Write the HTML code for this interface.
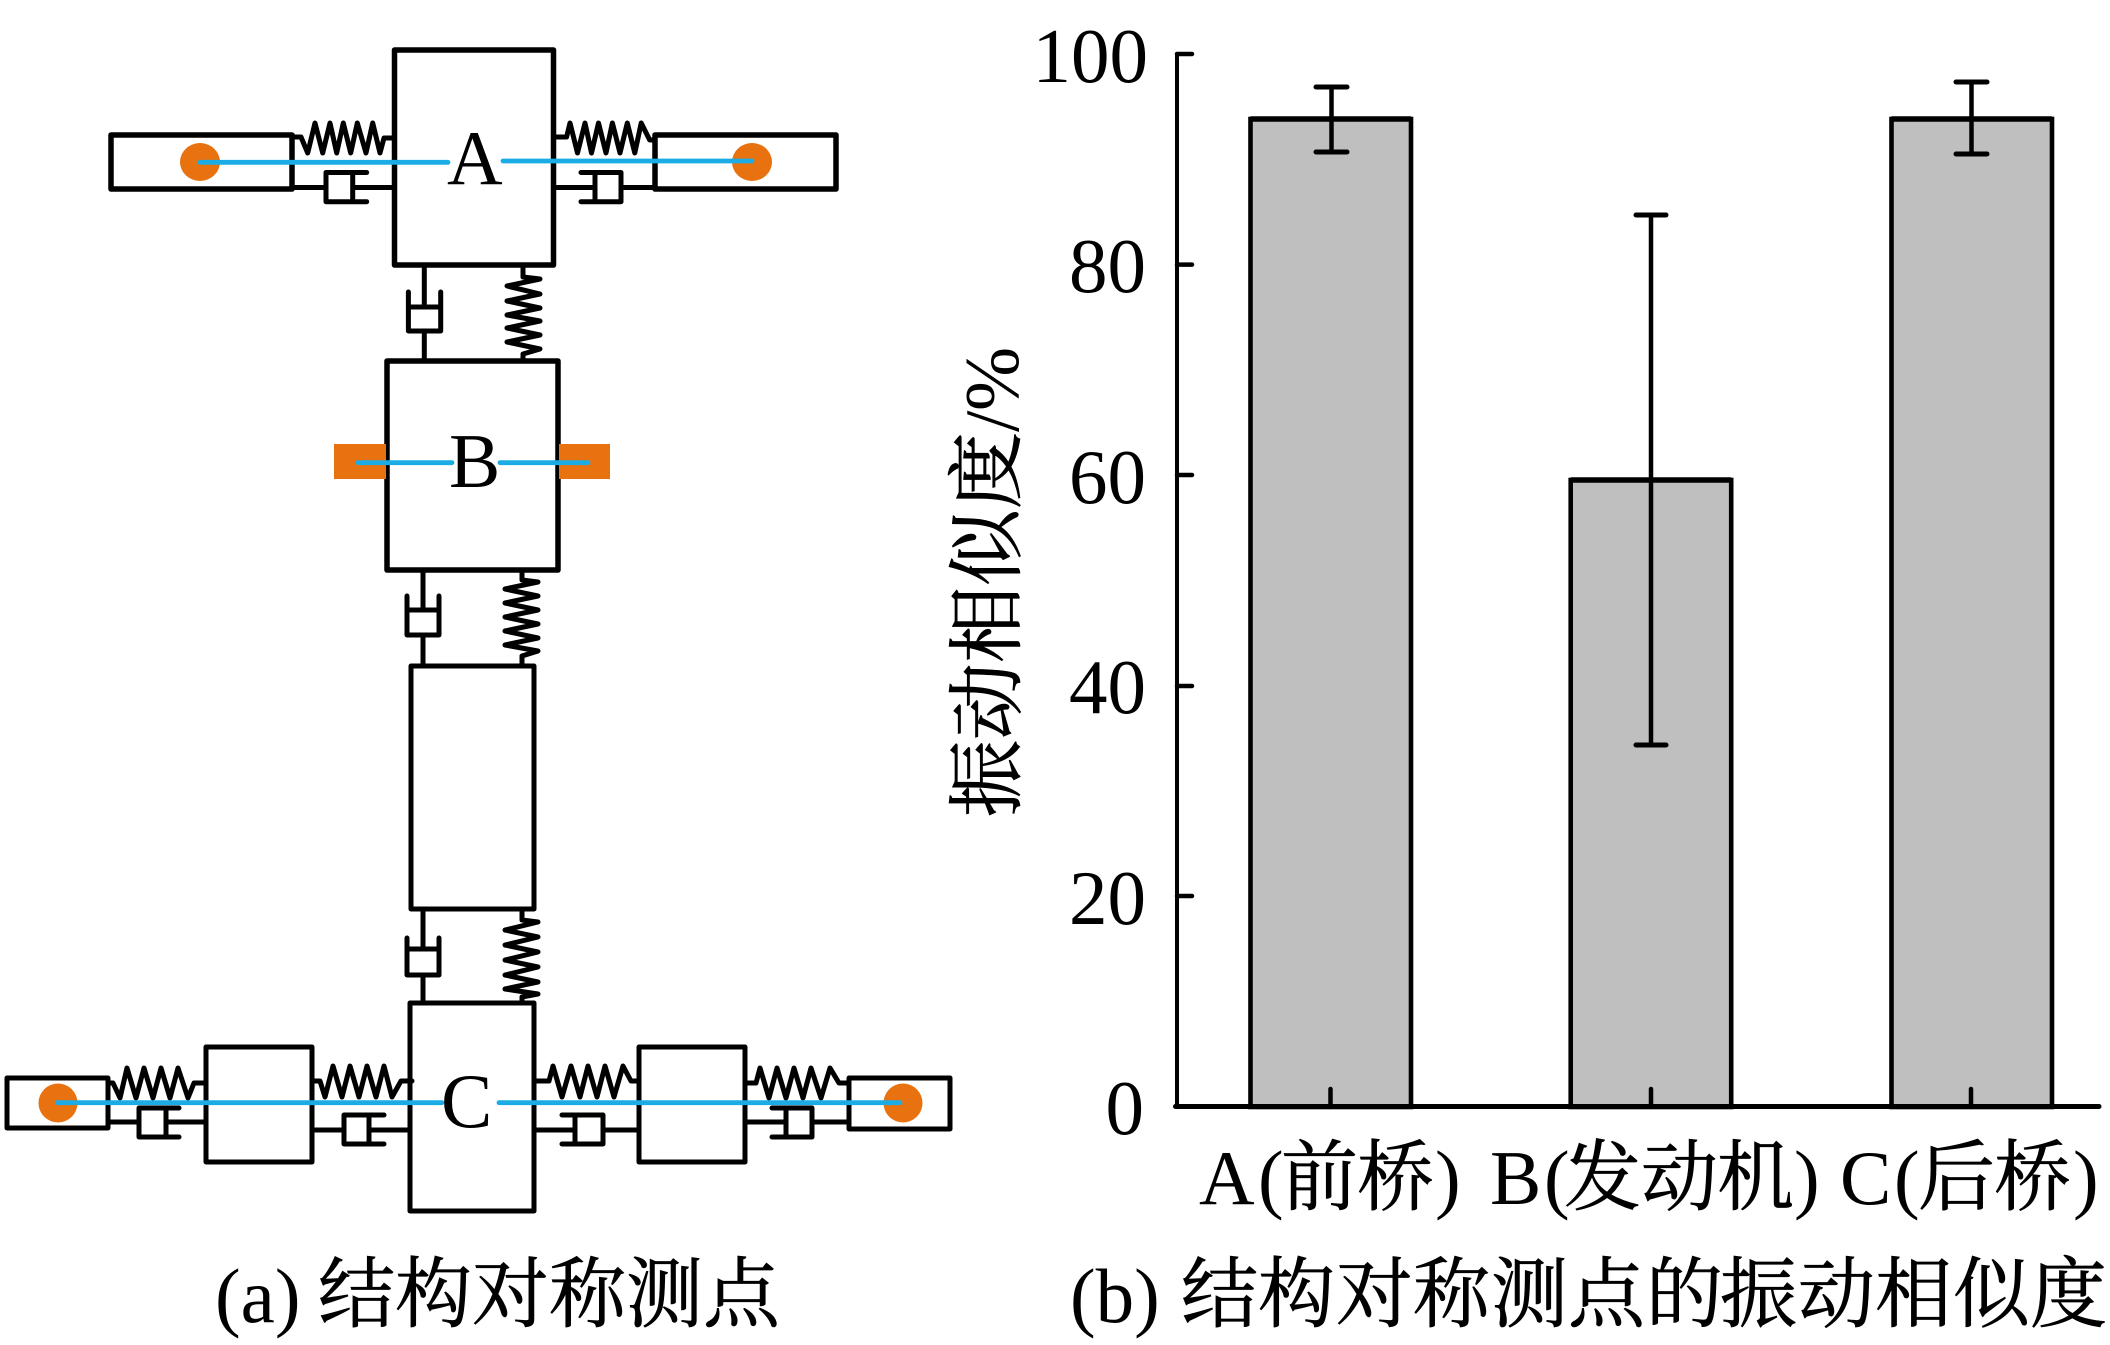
<!DOCTYPE html>
<html><head><meta charset="utf-8"><style>
html,body{margin:0;padding:0;background:#fff;width:2110px;height:1345px;overflow:hidden}
svg{display:block}
.l{font-family:"Liberation Serif","Noto Serif CJK SC",serif;font-size:77px;fill:#000}
.c{font-family:"Noto Serif CJK SC","Liberation Serif",serif;font-size:77px;fill:#000;stroke:#000;stroke-width:.7}
</style></head><body>
<svg width="2110" height="1345" viewBox="0 0 2110 1345" xmlns="http://www.w3.org/2000/svg">
<rect width="2110" height="1345" fill="#fff"/>
<g fill="none" stroke="#000" stroke-width="5" stroke-linejoin="round" stroke-linecap="round">
<!-- Body A -->
<rect x="394.5" y="50" width="159" height="215" fill="#fff" stroke-width="5.5"/>
<rect x="111" y="135" width="181" height="54" stroke-width="5.5"/>
<rect x="655" y="135" width="181" height="54" stroke-width="5.5"/>
<polyline points="292.5,137 301,137 307.7,153 315,123 322.7,153 330,123 336.7,153 343.3,123 350.7,153 357.3,123 366,153 372.7,123 380,153 384,138 394,138"/>
<polyline points="554,137 566.6,137 570,123 577.5,153 585,123 591.5,153 598.5,123 606,153 612.4,123 620,153 627.3,123 634.8,153 641.2,123 649.7,140 655,140"/>
<path d="M292.5 187.5H326M352.7 187.5H394.5M366.7 172.5H326V201.7H366.7M352.7 172.5V201.7"/>
<path d="M554 187.5H595M621 187.5H655M581 172.5H621V201.7H581M595 172.5V201.7"/>
<!-- A to B -->
<path d="M424.3 265V307M424.3 331V360M408.4 292V331H440.7V292M408.4 307H440.7"/>
<polyline points="523,265 523,277 540,279 507,286 540,294 507,301 540,308 507,315 540,321 507,328 540,335 507,342 540,349 523,354 523,360"/>
<!-- Body B -->
<rect x="387" y="361" width="171" height="209" fill="#fff" stroke-width="5.5"/>
<!-- B to D -->
<path d="M423 570V610M423 635V665M407 596V635H439V596M407 610H439"/>
<polyline points="522,570 522,580 538,582 505,589 538,596 505,603 538,610 505,617 538,624 505,631 538,638 505,645 538,651 522,656 522,665"/>
<!-- Body D -->
<rect x="411" y="666" width="123" height="243" fill="#fff" stroke-width="5"/>
<!-- D to C -->
<path d="M423 909V949M423 975V1002M407 938V975H439V938M407 949H439"/>
<polyline points="522,909 522,920 538,922 505,930 538,937 505,945 538,952 505,960 538,967 505,975 538,982 505,989 538,994 522,997 522,1002"/>
<!-- Body C and wheels -->
<rect x="410" y="1003" width="124" height="208" fill="#fff" stroke-width="5"/>
<rect x="206" y="1047" width="106" height="115" stroke-width="5"/>
<rect x="639" y="1047" width="106" height="115" stroke-width="5"/>
<rect x="7" y="1078" width="101" height="50" stroke-width="5"/>
<rect x="849" y="1078" width="101" height="51" stroke-width="5"/>
<polyline points="108,1083 113,1083 120,1098 127,1068 136,1098 144,1068 153,1098 161,1068 170,1098 178,1068 188,1098 194,1083 206,1083"/>
<polyline points="312,1081 320,1081 325,1097 333,1066 342,1097 350,1066 359,1097 367,1066 376,1097 384,1066 392,1097 401,1081 412,1081"/>
<polyline points="534,1081 549,1081 553,1066 562,1097 571,1066 580,1097 588,1066 597,1097 605,1066 614,1097 623,1066 631,1081 639,1081"/>
<polyline points="745,1083 756,1083 760,1068 769,1098 777,1068 786,1098 794,1068 803,1098 811,1068 821,1098 830,1068 839,1083 849,1083"/>
<path d="M108 1122H139M166 1122H206M179 1108H139V1137H179M166 1108V1137"/>
<path d="M312 1130H344M369 1130H410M384 1115H344V1144H384M369 1115V1144"/>
<path d="M534 1130H575M603 1130H639M562 1115H603V1144H562M575 1115V1144"/>
<path d="M745 1122H786M812 1122H849M772 1108H812V1137H772M786 1108V1137"/>
</g>
<!-- orange sensors -->
<g fill="#e8720f">
<ellipse cx="200" cy="162" rx="20" ry="19"/>
<ellipse cx="752" cy="162" rx="20" ry="19"/>
<rect x="334" y="444" width="52" height="35"/>
<rect x="559" y="444" width="51" height="35"/>
<ellipse cx="58" cy="1103" rx="19.5" ry="19.5"/>
<ellipse cx="903" cy="1103" rx="19.5" ry="19.5"/>
</g>
<!-- blue lines -->
<g stroke="#1bace6" stroke-width="4.8" stroke-linecap="round" fill="none">
<path d="M200 162.3H448M503 161H752"/>
<path d="M358 462.7H452M500 462.7H588"/>
<path d="M57.5 1102.7H442M499 1102.7H900"/>
</g>
<!-- Body labels -->
<text class="l" x="447" y="184">A</text>
<text class="l" x="449" y="487">B</text>
<text class="l" x="441" y="1127">C</text>
<!-- chart -->
<g stroke="#000" fill="none">
<rect x="1250.5" y="119" width="160.5" height="988" fill="#bfbfbf" stroke-width="4.6"/>
<rect x="1570.7" y="480" width="160.5" height="627" fill="#bfbfbf" stroke-width="4.6"/>
<rect x="1891.5" y="119" width="160.5" height="988" fill="#bfbfbf" stroke-width="4.6"/>
<path d="M1250.5 119H1411M1570.7 480H1731.2M1891.5 119H2052" stroke-width="5.5"/>
<path d="M1177 54V1107" stroke-width="4"/>
<path d="M1175.5 1106.5H2099" stroke-width="5" stroke-linecap="round"/>
<path d="M1177 54H1192M1177 264.6H1192M1177 475H1192M1177 686H1192M1177 896H1192" stroke-width="4.5" stroke-linecap="round"/>
<path d="M1330.5 1089V1107M1651 1089V1107M1971 1089V1107" stroke-width="4.5" stroke-linecap="round"/>
<path d="M1331.5 87V152M1651 215V745M1971.5 82V154" stroke-width="4.5"/>
<path d="M1316 87H1347M1316 152H1347M1636 215H1666M1636 745H1666M1956 82H1987M1956 154H1987" stroke-width="5" stroke-linecap="round"/>
</g>
<g class="l" text-anchor="end">
<text class="l" x="1148" y="82">100</text>
<text class="l" x="1146" y="292">80</text>
<text class="l" x="1146" y="503">60</text>
<text class="l" x="1146" y="713">40</text>
<text class="l" x="1146" y="924">20</text>
<text class="l" x="1144" y="1134">0</text>
</g>
<!-- x labels -->
<text class="l" x="1199 1258" y="1204">A(</text>
<text class="c" x="1281 1357" y="1204">前桥</text>
<text class="l" x="1435" y="1204">)</text>
<text class="l" x="1490 1544" y="1204">B(</text>
<text class="c" x="1564 1641 1717" y="1204">发动机</text>
<text class="l" x="1794" y="1204">)</text>
<text class="l" x="1840 1894" y="1204">C(</text>
<text class="c" x="1918 1994" y="1204">后桥</text>
<text class="l" x="2073" y="1204">)</text>
<!-- y label -->
<g transform="translate(1018,817) rotate(-90)">
<text class="c" x="0 77 154 231 308" y="-4">振动相似度</text>
<text class="l" x="385 406" y="0">/%</text>
</g>
<!-- captions -->
<text class="l" x="215" y="1322">(a)</text>
<text class="c" x="318 395 472 549 626 703" y="1321">结构对称测点</text>
<text class="l" x="1070" y="1322">(b)</text>
<text class="c" x="1181 1258 1336 1413 1491 1568 1646 1720 1798 1875 1953 2030" y="1321">结构对称测点的振动相似度</text>
</svg>
</body></html>
